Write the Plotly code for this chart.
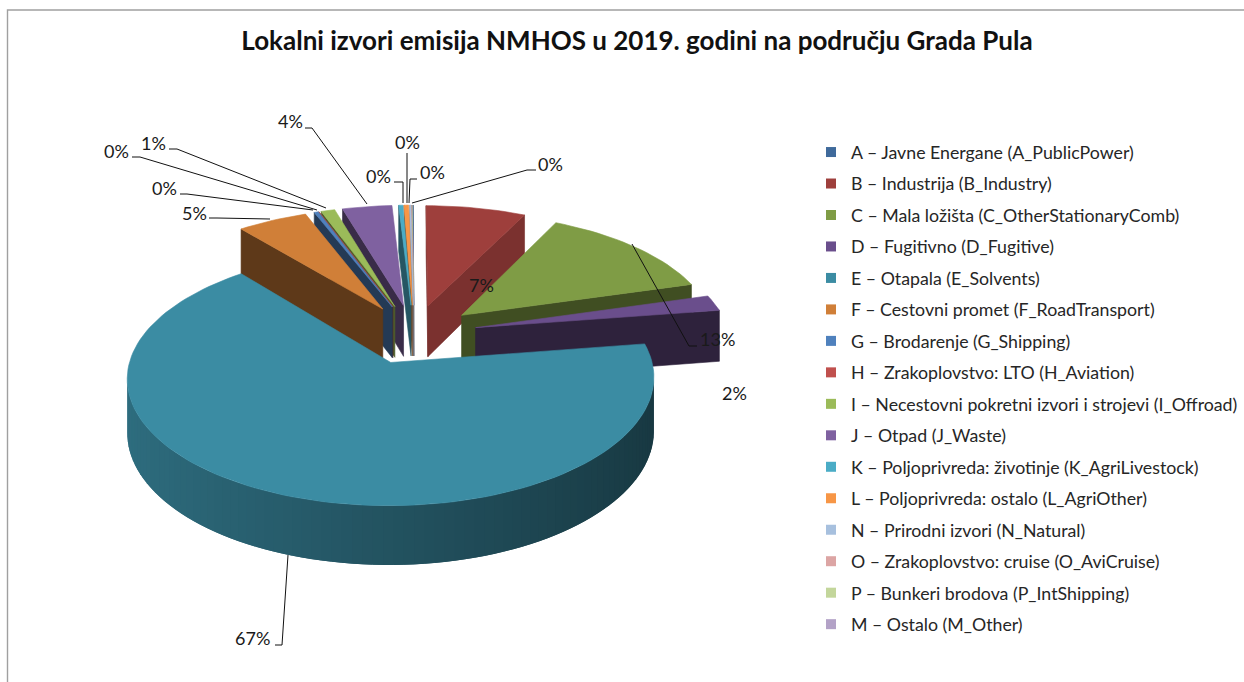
import math
import plotly.graph_objects as go

CATEGORIES = [
    "A – Javne Energane (A_PublicPower)", "B – Industrija (B_Industry)",
    "C – Mala ložišta (C_OtherStationaryComb)", "D – Fugitivno (D_Fugitive)",
    "E – Otapala (E_Solvents)", "F – Cestovni promet (F_RoadTransport)",
    "G – Brodarenje (G_Shipping)", "H – Zrakoplovstvo: LTO (H_Aviation)",
    "I – Necestovni pokretni izvori i strojevi (I_Offroad)", "J – Otpad (J_Waste)",
    "K – Poljoprivreda: životinje (K_AgriLivestock)", "L – Poljoprivreda: ostalo (L_AgriOther)",
    "N – Prirodni izvori (N_Natural)", "O – Zrakoplovstvo: cruise (O_AviCruise)",
    "P – Bunkeri brodova (P_IntShipping)", "M – Ostalo (M_Other)",
]
VALUES = [0.04, 7.25, 13.2, 2.1, 66.51, 5.1, 0.3, 0.05, 1.0, 3.6, 0.3, 0.34, 0.1, 0.04, 0.03, 0.04]
COLORS = ["#3F6A9B", "#9E3F3C", "#7F9C45", "#6A4E8C", "#3B8CA3", "#D07F38", "#4F81BD", "#C0504D",
          "#9BBB59", "#7F61A0", "#4BACC6", "#F79646", "#A7C0DE", "#DCA5A4", "#C3D69B", "#B3A2C7"]
WALL_SHADE = [0.5, 0.78, 0.5, 0.43, 0.5, 0.45, 0.45, 0.45, 0.5, 0.45, 0.5, 0.5, 0.6, 0.6, 0.6, 0.6]
TITLE = "Lokalni izvori emisija NMHOS u 2019. godini na području Grada Pula"

# style and layout
CX, CY, SX, SY, PERSP, DEPTH, DEPTH_PERSP, EXPLODE, YAW = 414, 334, 254, 118.6, 0.12, 52, 0.10, 0.25, 1
FONT = "Lato, Carlito, sans-serif"
LABEL_POS = {0: (550, 164), 1: (481, 285), 2: (717, 339), 3: (734, 393), 4: (252, 638), 5: (194, 213),
             6: (164, 188), 7: (116, 151), 8: (153, 143), 9: (290, 121), 10: (378, 176), 11: (407, 142), 12: (432, 172)}
LEADERS = [
    [(305, 128), (312, 128), (367, 204)], [(169, 149), (177, 149), (326, 208)],
    [(132, 157), (140, 157), (317, 210)], [(180, 194), (187, 194), (313, 210)],
    [(209, 218), (217, 218), (270, 219)], [(394, 182), (403, 182), (403, 203)],
    [(407, 153), (407, 203)], [(417, 179), (410, 179), (409, 203)],
    [(536, 170), (527, 170), (412, 203)], [(697, 346), (689, 346), (632, 244)],
    [(275, 645), (282, 645), (288, 555)],
]


def project(x, y, z=0.0):
    w = 1 + PERSP * y
    return CX + (SX * x - YAW * y) / w, CY - SY * y / w + DEPTH * z / (1 + DEPTH_PERSP * y)


def shade(color, f):
    r, g, b = (int(color[i:i + 2], 16) for i in (1, 3, 5))
    return f"rgb({round(r * f)},{round(g * f)},{round(b * f)})"


def polygon(points, color, group, lw=0.6):
    return go.Scatter(x=[p[0] for p in points] + [points[0][0]], y=[p[1] for p in points] + [points[0][1]],
                      mode="lines", fill="toself", fillcolor=color, line=dict(color=color, width=lw),
                      hoverinfo="skip", showlegend=False, legendgroup=group)


def area(pts):
    return sum(pts[i][0] * pts[(i + 1) % len(pts)][1] - pts[(i + 1) % len(pts)][0] * pts[i][1] for i in range(len(pts)))


def wall(chain, color, group, lw=0.6):
    """Extruded strip along ground points `chain`; None if it faces away."""
    top = [project(*p) for p in chain]
    bottom = [project(*p, 1) for p in reversed(chain)]
    pts = top + bottom
    return polygon(pts, color, group, lw) if area(pts) < 0 else None


fig = go.Figure()
for name, color in zip(CATEGORIES, COLORS):
    fig.add_trace(go.Scatter(x=[None], y=[None], mode="markers", name=name, legendgroup=name,
                             marker=dict(symbol="square", size=10, color=color)))

total = sum(VALUES)
spans, start = [], 0.0
for v in VALUES:
    spans.append((start, start + v / total * 360))
    start = spans[-1][1]

order = sorted(range(len(VALUES)), key=lambda i: -math.cos(math.radians(sum(spans[i]) / 2)))
for i in order:
    t0, t1 = spans[i]
    mid = math.radians((t0 + t1) / 2)
    ox, oy = EXPLODE * math.sin(mid), EXPLODE * math.cos(mid)
    n = max(1, int((t1 - t0) / 2) + 1)
    rim = []
    for k in range(n + 1):
        t = math.radians(t0 + (t1 - t0) * k / n)
        rim.append((ox + math.sin(t), oy + math.cos(t)))
    apex = (ox, oy)
    name, color = CATEGORIES[i], COLORS[i]
    for a, b in ((apex, rim[0]), (rim[-1], apex)):
        w = wall([a, b], shade(color, WALL_SHADE[i]), name)
        if w is not None:
            fig.add_trace(w)
    for k in range(n):
        t = math.radians(t0 + (t1 - t0) * (k + 0.5) / n)
        # each strip runs under the next one, so no seams show between them
        w = wall(rim[k:k + 3], shade(color, 0.59 - 0.19 * math.sin(t)), name, lw=0)
        if w is not None:
            fig.add_trace(w)
    fig.add_trace(polygon([project(*apex)] + [project(*p) for p in rim], color, name))

annotations = [dict(x=x, y=y, xref="x", yref="y", text=f"{round(VALUES[i])}%", showarrow=False,
                    font=dict(family=FONT, size=18, color="#1a1a1a"))
               for i, (x, y) in LABEL_POS.items()]
shapes = [dict(type="path", xref="x", yref="y", line=dict(color="#111", width=1),
               path="M" + " L".join(f"{x},{y}" for x, y in pts)) for pts in LEADERS]
shapes.append(dict(type="rect", xref="x", yref="y", x0=7.5, x1=1300, y0=10, y1=720,
                   line=dict(color="#a0a0a0", width=1.4), layer="below"))

fig.update_layout(
    width=1244, height=682, margin=dict(l=0, r=0, t=0, b=0), paper_bgcolor="white", plot_bgcolor="white",
    xaxis=dict(range=[0, 1244], visible=False, fixedrange=True),
    yaxis=dict(range=[682, 0], visible=False, fixedrange=True),
    title=dict(text=f"<b>{TITLE}</b>", x=637 / 1244, xanchor="center", y=1 - 41 / 682, yanchor="middle",
               font=dict(family=FONT, size=26, color="#111")),
    legend=dict(x=811 / 1244, y=1 - 134 / 682, xanchor="left", yanchor="top", bgcolor="rgba(0,0,0,0)",
                tracegroupgap=5.4, traceorder="grouped", font=dict(family=FONT, size=17.75, color="#262626")),
    annotations=annotations, shapes=shapes, showlegend=True,
)
fig.write_html("out.html", config=dict(displayModeBar=False),
               post_script="document.body.style.margin='0';document.body.style.overflow='hidden';")
